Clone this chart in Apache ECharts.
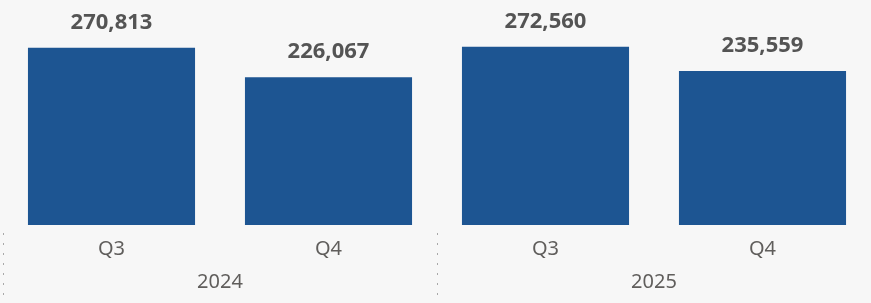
<!DOCTYPE html>
<html>
<head>
<meta charset="utf-8">
<script src="https://cdn.jsdelivr.net/npm/echarts@6/dist/echarts.min.js"></script>
<style>
  html, body { margin: 0; padding: 0; background: #f7f7f7; }
  #main { width: 871px; height: 303px; }
</style>
</head>
<body>
<div id="main"></div>
<script>
var quarters = ['Q3', 'Q4', 'Q3', 'Q4'];
var years = ['2024', '2025'];
var values = [270813, 226067, 272560, 235559];

var chart = echarts.init(document.getElementById('main'));
var option = {
    backgroundColor: '#f7f7f7',
    animation: false,
    grid: {
        left: 3,
        right: 0,
        top: 0,
        bottom: 78
    },
    xAxis: [{
        type: 'category',
        data: quarters,
        axisLine: { show: false },
        axisTick: { show: false },
        axisLabel: {
            margin: 14,
            fontSize: 20,
            color: '#605e5c',
            fontFamily: 'Noto Sans'
        }
    }, {
        type: 'category',
        data: years,
        position: 'bottom',
        offset: 8,
        axisLine: { show: false },
        axisTick: {
            show: true,
            length: 75,
            lineStyle: { color: '#a8a8a8', type: [2, 8], width: 1 }
        },
        axisLabel: {
            margin: 39,
            fontSize: 20,
            color: '#605e5c',
            fontFamily: 'Noto Sans'
        }
    }],
    yAxis: {
        type: 'value',
        min: 0,
        max: 344000,
        show: false,
        splitLine: { show: false }
    },
    series: [{
        type: 'bar',
        data: values,
        barWidth: '77%',
        itemStyle: { color: '#1d5592' },
        label: {
            show: true,
            position: 'top',
            distance: 14,
            fontSize: 22,
            fontWeight: 'bold',
            color: '#545454',
            fontFamily: 'Noto Sans',
            formatter: function (p) {
                return p.value.toLocaleString('en-US');
            }
        }
    }]
};
chart.setOption(option);
</script>
</body>
</html>
